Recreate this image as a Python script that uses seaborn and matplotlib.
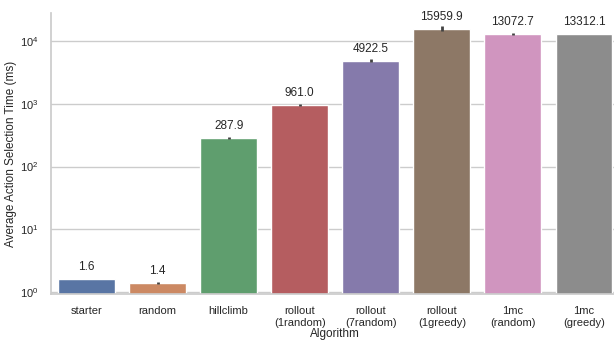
import matplotlib
matplotlib.use("Agg")
import matplotlib.pyplot as plt
from matplotlib.container import BarContainer
import seaborn as sns
import numpy as np

algorithms = ["starter", "random", "hillclimb", "rollout\n(1random)", "rollout\n(7random)",
              "rollout\n(1greedy)", "1mc\n(random)", "1mc\n(greedy)"]
mean_ms = [1.6, 1.4, 287.9, 961.0, 4922.5, 15959.9, 13072.7, 13312.1]
ci_ms = [0.0, 0.05, 12.0, 25.0, 250.0, 1400.0, 350.0, 0.0]

sns.set_theme(style="whitegrid")
plt.rcParams["font.family"] = ["Liberation Sans", "DejaVu Sans"]
plt.rcParams["mathtext.default"] = "regular"

fig = plt.figure(figsize=(6.14, 3.41), dpi=100)
ax = fig.add_axes([0.083, 0.138, 0.926, 0.824])

sns.barplot(x=algorithms, y=mean_ms, hue=algorithms, palette="deep",
            legend=False, errorbar=None, ax=ax)
ax.set_yscale("log")

pos = np.arange(len(algorithms))
ax.errorbar(pos, mean_ms, yerr=ci_ms, fmt="none", ecolor=".26", elinewidth=2.0, capsize=0, zorder=3)

for c in ax.containers:
    if isinstance(c, BarContainer):
        ax.bar_label(c, fmt="%.1f", padding=4, fontsize=8.5, color=".15")

ax.set_ylim(0.92, 28400)
ax.set_xlim(-0.5, len(algorithms) - 0.5)
ax.set_xlabel("Algorithm", fontsize=8.5, labelpad=0)
ax.set_ylabel("Average Action Selection Time (ms)", fontsize=8.5, labelpad=2)
ax.tick_params(axis="both", labelsize=8, pad=3)
ax.yaxis.set_minor_locator(matplotlib.ticker.NullLocator())
sns.despine(ax=ax)

fig.savefig("out.png", dpi=100)
